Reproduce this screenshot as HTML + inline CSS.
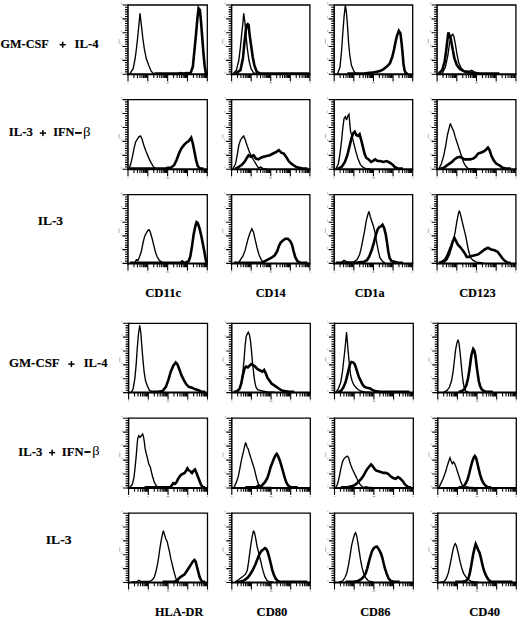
<!DOCTYPE html><html><head><meta charset="utf-8"><style>html,body{margin:0;padding:0;background:#fff;}svg{display:block;}</style></head><body>
<svg width="520" height="618" viewBox="0 0 520 618">
<rect width="520" height="618" fill="#fff"/>
<g font-family="Liberation Serif" font-weight="bold" font-size="12.7" fill="#000" stroke="#000" stroke-width="0.15">
<text transform="translate(0.49 48) scale(0.9653 1.0000)">GM-CSF</text>
<text transform="translate(74.52 48) scale(1.0014 1.0000)">IL-4</text>
<text transform="translate(8.82 136.2) scale(1.0068 1.0000)">IL-3</text>
<text transform="translate(53.13 136.2) scale(0.9702 1.0000)">IFN</text>
<text transform="translate(83.01 136.09) scale(1.1715 0.9778)" font-weight="normal" stroke="none">β</text>
<text transform="translate(37.7 224.8) scale(1.0585 1.0000)">IL-3</text>
<text transform="translate(8.96 366.8) scale(1.0144 1.0000)">GM-CSF</text>
<text transform="translate(83.72 366.9) scale(0.9885 1.0000)">IL-4</text>
<text transform="translate(18.32 455.5) scale(0.9982 1.0000)">IL-3</text>
<text transform="translate(61.82 455.5) scale(0.9936 1.0000)">IFN</text>
<text transform="translate(92.24 455.25) scale(1.1331 0.9172)" font-weight="normal" stroke="none">β</text>
<text transform="translate(45.79 543.8) scale(1.0757 1.0000)">IL-3</text>
<text transform="translate(145.16 297) scale(1.0014 1.0000)">CD11c</text>
<text transform="translate(255.68 297) scale(0.9694 1.0000)">CD14</text>
<text transform="translate(354.69 297) scale(0.9627 1.0000)">CD1a</text>
<text transform="translate(459.18 297) scale(0.9746 1.0000)">CD123</text>
<text transform="translate(154.96 615.7) scale(0.9637 1.0000)">HLA-DR</text>
<text transform="translate(256.57 615.9) scale(0.9943 1.0000)">CD80</text>
<text transform="translate(360.18 615.9) scale(0.9735 1.0000)">CD86</text>
<text transform="translate(469.17 615.9) scale(0.9943 1.0000)">CD40</text>
<rect x="59.6" y="43.95" width="6.2" height="1.5" stroke="none"/>
<rect x="61.95" y="41.7" width="1.5" height="6" stroke="none"/>
<rect x="39.8" y="132.35" width="6.2" height="1.5" stroke="none"/>
<rect x="42.15" y="130.1" width="1.5" height="6" stroke="none"/>
<rect x="68.3" y="363.35" width="6.2" height="1.5" stroke="none"/>
<rect x="70.65" y="361.1" width="1.5" height="6" stroke="none"/>
<rect x="49" y="451.85" width="6.2" height="1.5" stroke="none"/>
<rect x="51.35" y="449.6" width="1.5" height="6" stroke="none"/>
<rect x="75" y="132" width="6.8" height="1.8" stroke="none"/>
<rect x="84.4" y="451.1" width="6.2" height="1.8" stroke="none"/>
</g>
<path d="M128 5H207.3V74.2" fill="none" stroke="#000" stroke-width="1.3"/>
<path d="M128 4.4V75.2" fill="none" stroke="#000" stroke-width="1.5"/>
<path d="M127 74.2H207.9" fill="none" stroke="#000" stroke-width="2"/>
<path d="M122.5 5H128M125 7.31H128M125 9.61H128M125 11.92H128M125 14.23H128M125 16.53H128M122.5 18.84H128M125 21.15H128M125 23.45H128M125 25.76H128M125 28.07H128M125 30.37H128M122.5 32.68H128M125 34.99H128M125 37.29H128M125 39.6H128M125 41.91H128M125 44.21H128M122.5 46.52H128M125 48.83H128M125 51.13H128M125 53.44H128M125 55.75H128M125 58.05H128M122.5 60.36H128M125 62.67H128M125 64.97H128M125 67.28H128M125 69.59H128M125 71.89H128M122.5 74.2H128" stroke="#000" stroke-width="1.1"/>
<path d="M133.97 74.2V78M137.46 74.2V78M139.94 74.2V78M141.86 74.2V78M143.43 74.2V78M144.75 74.2V78M145.9 74.2V78M146.92 74.2V78M153.79 74.2V78M157.28 74.2V78M159.76 74.2V78M161.68 74.2V78M163.25 74.2V78M164.58 74.2V78M165.73 74.2V78M166.74 74.2V78M173.62 74.2V78M177.11 74.2V78M179.59 74.2V78M181.51 74.2V78M183.08 74.2V78M184.4 74.2V78M185.55 74.2V78M186.57 74.2V78M193.44 74.2V78M196.93 74.2V78M199.41 74.2V78M201.33 74.2V78M202.9 74.2V78M204.23 74.2V78M205.38 74.2V78M206.39 74.2V78" stroke="#000" stroke-width="1.05"/>
<path d="M128 74.2V81.2M147.82 74.2V81.2M167.65 74.2V81.2M187.48 74.2V81.2M207.3 74.2V81.2" stroke="#000" stroke-width="1.1"/>
<path d="M121.4 4.2v-1.6M121.4 18.04v-1.6M121.4 31.88v-1.6M121.4 45.72v-1.6M121.4 59.56v-1.6M121.4 73.4v-1.6M127.3 82.8h1.4M147.12 82.8h1.4M166.95 82.8h1.4M186.78 82.8h1.4M206.6 82.8h1.4M166.15 82.8h3M119.2 39.1v4.5" stroke="#aaa" stroke-width="0.9" fill="none"/>
<polyline points="129.9,73.7 133.17,68.67 135.13,58.6 136.44,48.53 137.75,36.78 138.89,25.04 140.04,13.29 141.35,25.04 142.65,36.78 144.29,48.53 146.25,58.6 148.7,65.31 151.15,71.18 153.61,73.7 178.94,73.7" fill="none" stroke="#000" stroke-width="1.35" stroke-linejoin="miter" stroke-miterlimit="3"/>
<polyline points="154.42,73.5 178.94,73.5 180.58,73.17 183.03,73.5 187.12,73.17 190.38,73.5 192.84,66.81 194.47,50.08 196.11,33.34 197.41,18.29 198.56,8.25 199.87,9.92 201.01,21.63 202.32,38.36 203.46,53.42 204.77,66.81 205.91,73.5 206.73,73.5" fill="none" stroke="#000" stroke-width="2.6" stroke-linejoin="miter" stroke-miterlimit="3"/>
<path d="M231.6 5H309.9V74.2" fill="none" stroke="#000" stroke-width="1.3"/>
<path d="M231.6 4.4V75.2" fill="none" stroke="#000" stroke-width="1.5"/>
<path d="M230.6 74.2H310.5" fill="none" stroke="#000" stroke-width="2"/>
<path d="M226.1 5H231.6M228.6 7.31H231.6M228.6 9.61H231.6M228.6 11.92H231.6M228.6 14.23H231.6M228.6 16.53H231.6M226.1 18.84H231.6M228.6 21.15H231.6M228.6 23.45H231.6M228.6 25.76H231.6M228.6 28.07H231.6M228.6 30.37H231.6M226.1 32.68H231.6M228.6 34.99H231.6M228.6 37.29H231.6M228.6 39.6H231.6M228.6 41.91H231.6M228.6 44.21H231.6M226.1 46.52H231.6M228.6 48.83H231.6M228.6 51.13H231.6M228.6 53.44H231.6M228.6 55.75H231.6M228.6 58.05H231.6M226.1 60.36H231.6M228.6 62.67H231.6M228.6 64.97H231.6M228.6 67.28H231.6M228.6 69.59H231.6M228.6 71.89H231.6M226.1 74.2H231.6" stroke="#000" stroke-width="1.1"/>
<path d="M237.49 74.2V78M240.94 74.2V78M243.39 74.2V78M245.28 74.2V78M246.83 74.2V78M248.14 74.2V78M249.28 74.2V78M250.28 74.2V78M257.07 74.2V78M260.51 74.2V78M262.96 74.2V78M264.86 74.2V78M266.41 74.2V78M267.72 74.2V78M268.85 74.2V78M269.85 74.2V78M276.64 74.2V78M280.09 74.2V78M282.54 74.2V78M284.43 74.2V78M285.98 74.2V78M287.29 74.2V78M288.43 74.2V78M289.43 74.2V78M296.22 74.2V78M299.66 74.2V78M302.11 74.2V78M304.01 74.2V78M305.56 74.2V78M306.87 74.2V78M308 74.2V78M309 74.2V78" stroke="#000" stroke-width="1.05"/>
<path d="M231.6 74.2V81.2M251.17 74.2V81.2M270.75 74.2V81.2M290.32 74.2V81.2M309.9 74.2V81.2" stroke="#000" stroke-width="1.1"/>
<path d="M225 4.2v-1.6M225 18.04v-1.6M225 31.88v-1.6M225 45.72v-1.6M225 59.56v-1.6M225 73.4v-1.6M230.9 82.8h1.4M250.47 82.8h1.4M270.05 82.8h1.4M289.62 82.8h1.4M309.2 82.8h1.4M269.25 82.8h3M222.8 39.1v4.5" stroke="#aaa" stroke-width="0.9" fill="none"/>
<polyline points="233.09,73.7 236.36,70.34 238.81,60.28 240.44,46.85 241.75,33.43 242.89,23.36 243.71,13.29 245.02,23.36 246.16,36.78 247.31,48.53 248.94,60.28 251.07,68.67 253.52,72.86 256.79,73.7" fill="none" stroke="#000" stroke-width="1.35" stroke-linejoin="miter" stroke-miterlimit="3"/>
<polyline points="235.54,73.5 240.44,70.15 242.89,58.44 244.53,41.71 245.84,30 246.98,24.98 247.8,24.14 248.62,24.98 249.43,33.34 251.07,45.06 252.7,56.77 254.34,65.13 256.79,71.83 260.06,73.5 269.87,73.5 278.04,73.5 294.38,73.5 309.1,73.5" fill="none" stroke="#000" stroke-width="2.6" stroke-linejoin="miter" stroke-miterlimit="3"/>
<path d="M334.2 5H412.7V74.2" fill="none" stroke="#000" stroke-width="1.3"/>
<path d="M334.2 4.4V75.2" fill="none" stroke="#000" stroke-width="1.5"/>
<path d="M333.2 74.2H413.3" fill="none" stroke="#000" stroke-width="2"/>
<path d="M328.7 5H334.2M331.2 7.31H334.2M331.2 9.61H334.2M331.2 11.92H334.2M331.2 14.23H334.2M331.2 16.53H334.2M328.7 18.84H334.2M331.2 21.15H334.2M331.2 23.45H334.2M331.2 25.76H334.2M331.2 28.07H334.2M331.2 30.37H334.2M328.7 32.68H334.2M331.2 34.99H334.2M331.2 37.29H334.2M331.2 39.6H334.2M331.2 41.91H334.2M331.2 44.21H334.2M328.7 46.52H334.2M331.2 48.83H334.2M331.2 51.13H334.2M331.2 53.44H334.2M331.2 55.75H334.2M331.2 58.05H334.2M328.7 60.36H334.2M331.2 62.67H334.2M331.2 64.97H334.2M331.2 67.28H334.2M331.2 69.59H334.2M331.2 71.89H334.2M328.7 74.2H334.2" stroke="#000" stroke-width="1.1"/>
<path d="M340.11 74.2V78M343.56 74.2V78M346.02 74.2V78M347.92 74.2V78M349.47 74.2V78M350.79 74.2V78M351.92 74.2V78M352.93 74.2V78M359.73 74.2V78M363.19 74.2V78M365.64 74.2V78M367.54 74.2V78M369.1 74.2V78M370.41 74.2V78M371.55 74.2V78M372.55 74.2V78M379.36 74.2V78M382.81 74.2V78M385.27 74.2V78M387.17 74.2V78M388.72 74.2V78M390.04 74.2V78M391.17 74.2V78M392.18 74.2V78M398.98 74.2V78M402.44 74.2V78M404.89 74.2V78M406.79 74.2V78M408.35 74.2V78M409.66 74.2V78M410.8 74.2V78M411.8 74.2V78" stroke="#000" stroke-width="1.05"/>
<path d="M334.2 74.2V81.2M353.82 74.2V81.2M373.45 74.2V81.2M393.07 74.2V81.2M412.7 74.2V81.2" stroke="#000" stroke-width="1.1"/>
<path d="M327.6 4.2v-1.6M327.6 18.04v-1.6M327.6 31.88v-1.6M327.6 45.72v-1.6M327.6 59.56v-1.6M327.6 73.4v-1.6M333.5 82.8h1.4M353.12 82.8h1.4M372.75 82.8h1.4M392.38 82.8h1.4M412 82.8h1.4M371.95 82.8h3M325.4 39.1v4.5" stroke="#aaa" stroke-width="0.9" fill="none"/>
<polyline points="337.54,73.7 339.99,66.99 341.62,50.21 342.77,33.43 344.08,16.65 345.38,5 346.53,13.29 347.67,28.39 348.65,43.5 349.8,55.24 351.43,65.31 353.88,71.18 356.34,73.7" fill="none" stroke="#000" stroke-width="1.35" stroke-linejoin="miter" stroke-miterlimit="3"/>
<polyline points="347.35,73.5 363.69,73.5 371.87,72.66 380.04,70.99 383.31,69.32 386.58,66.81 389.85,63.46 392.3,56.77 393.93,50.08 395.57,41.71 397.2,35.02 398.84,30.84 400.47,33.34 401.62,43.38 402.6,53.42 403.41,63.46 404.56,70.15 405.87,73.5 407.83,73.5" fill="none" stroke="#000" stroke-width="2.6" stroke-linejoin="miter" stroke-miterlimit="3"/>
<path d="M437.1 5H515.9V74.2" fill="none" stroke="#000" stroke-width="1.3"/>
<path d="M437.1 4.4V75.2" fill="none" stroke="#000" stroke-width="1.5"/>
<path d="M436.1 74.2H516.5" fill="none" stroke="#000" stroke-width="2"/>
<path d="M431.6 5H437.1M434.1 7.31H437.1M434.1 9.61H437.1M434.1 11.92H437.1M434.1 14.23H437.1M434.1 16.53H437.1M431.6 18.84H437.1M434.1 21.15H437.1M434.1 23.45H437.1M434.1 25.76H437.1M434.1 28.07H437.1M434.1 30.37H437.1M431.6 32.68H437.1M434.1 34.99H437.1M434.1 37.29H437.1M434.1 39.6H437.1M434.1 41.91H437.1M434.1 44.21H437.1M431.6 46.52H437.1M434.1 48.83H437.1M434.1 51.13H437.1M434.1 53.44H437.1M434.1 55.75H437.1M434.1 58.05H437.1M431.6 60.36H437.1M434.1 62.67H437.1M434.1 64.97H437.1M434.1 67.28H437.1M434.1 69.59H437.1M434.1 71.89H437.1M431.6 74.2H437.1" stroke="#000" stroke-width="1.1"/>
<path d="M443.03 74.2V78M446.5 74.2V78M448.96 74.2V78M450.87 74.2V78M452.43 74.2V78M453.75 74.2V78M454.89 74.2V78M455.9 74.2V78M462.73 74.2V78M466.2 74.2V78M468.66 74.2V78M470.57 74.2V78M472.13 74.2V78M473.45 74.2V78M474.59 74.2V78M475.6 74.2V78M482.43 74.2V78M485.9 74.2V78M488.36 74.2V78M490.27 74.2V78M491.83 74.2V78M493.15 74.2V78M494.29 74.2V78M495.3 74.2V78M502.13 74.2V78M505.6 74.2V78M508.06 74.2V78M509.97 74.2V78M511.53 74.2V78M512.85 74.2V78M513.99 74.2V78M515 74.2V78" stroke="#000" stroke-width="1.05"/>
<path d="M437.1 74.2V81.2M456.8 74.2V81.2M476.5 74.2V81.2M496.2 74.2V81.2M515.9 74.2V81.2" stroke="#000" stroke-width="1.1"/>
<path d="M430.5 4.2v-1.6M430.5 18.04v-1.6M430.5 31.88v-1.6M430.5 45.72v-1.6M430.5 59.56v-1.6M430.5 73.4v-1.6M436.4 82.8h1.4M456.1 82.8h1.4M475.8 82.8h1.4M495.5 82.8h1.4M515.2 82.8h1.4M475 82.8h3M428.3 39.1v4.5" stroke="#aaa" stroke-width="0.9" fill="none"/>
<polyline points="442.17,73.7 445.44,66.99 447.89,55.24 449.53,43.5 451.16,35.94 452.8,34.27 453.94,36.78 455.25,43.5 456.88,53.56 458.52,61.95 460.97,67.83 464.24,71.18 469.96,71.18 471.6,70.34 476.5,73.36 483.04,73.7" fill="none" stroke="#000" stroke-width="1.35" stroke-linejoin="miter" stroke-miterlimit="3"/>
<polyline points="438.9,73.5 442.17,70.15 444.62,61.79 446.26,50.08 447.4,40.04 448.38,32.51 449.53,35.85 450.67,38.36 451.65,43.38 452.8,50.08 454.43,58.44 456.88,65.13 460.15,69.32 465.06,71.83 471.6,72.66 479.77,73.5 491.21,73.5 499.38,73.5" fill="none" stroke="#000" stroke-width="2.6" stroke-linejoin="miter" stroke-miterlimit="3"/>
<path d="M128 99.6H207.3V169.3" fill="none" stroke="#000" stroke-width="1.3"/>
<path d="M128 99V170.3" fill="none" stroke="#000" stroke-width="1.5"/>
<path d="M127 169.3H207.9" fill="none" stroke="#000" stroke-width="2"/>
<path d="M122.5 99.6H128M125 101.92H128M125 104.25H128M125 106.57H128M125 108.89H128M125 111.22H128M122.5 113.54H128M125 115.86H128M125 118.19H128M125 120.51H128M125 122.83H128M125 125.16H128M122.5 127.48H128M125 129.8H128M125 132.13H128M125 134.45H128M125 136.77H128M125 139.1H128M122.5 141.42H128M125 143.74H128M125 146.07H128M125 148.39H128M125 150.71H128M125 153.04H128M122.5 155.36H128M125 157.68H128M125 160.01H128M125 162.33H128M125 164.65H128M125 166.98H128M122.5 169.3H128" stroke="#000" stroke-width="1.1"/>
<path d="M133.97 169.3V173.1M137.46 169.3V173.1M139.94 169.3V173.1M141.86 169.3V173.1M143.43 169.3V173.1M144.75 169.3V173.1M145.9 169.3V173.1M146.92 169.3V173.1M153.79 169.3V173.1M157.28 169.3V173.1M159.76 169.3V173.1M161.68 169.3V173.1M163.25 169.3V173.1M164.58 169.3V173.1M165.73 169.3V173.1M166.74 169.3V173.1M173.62 169.3V173.1M177.11 169.3V173.1M179.59 169.3V173.1M181.51 169.3V173.1M183.08 169.3V173.1M184.4 169.3V173.1M185.55 169.3V173.1M186.57 169.3V173.1M193.44 169.3V173.1M196.93 169.3V173.1M199.41 169.3V173.1M201.33 169.3V173.1M202.9 169.3V173.1M204.23 169.3V173.1M205.38 169.3V173.1M206.39 169.3V173.1" stroke="#000" stroke-width="1.05"/>
<path d="M128 169.3V176.3M147.82 169.3V176.3M167.65 169.3V176.3M187.48 169.3V176.3M207.3 169.3V176.3" stroke="#000" stroke-width="1.1"/>
<path d="M121.4 98.8v-1.6M121.4 112.74v-1.6M121.4 126.68v-1.6M121.4 140.62v-1.6M121.4 154.56v-1.6M121.4 168.5v-1.6M127.3 177.9h1.4M147.12 177.9h1.4M166.95 177.9h1.4M186.78 177.9h1.4M206.6 177.9h1.4M166.15 177.9h3M119.2 133.95v4.5" stroke="#aaa" stroke-width="0.9" fill="none"/>
<polyline points="129.09,168.8 130.72,163.76 132.36,157.04 133.99,148.64 135.62,141.92 137.26,139.4 138.89,136.88 140.53,136.04 142.16,139.4 143.8,145.28 146.25,152 148.7,157.88 151.15,162.92 153.61,167.12 156.06,168.8 165.87,168.8" fill="none" stroke="#000" stroke-width="1.35" stroke-linejoin="miter" stroke-miterlimit="3"/>
<polyline points="129.9,168.6 165.87,168.6 167.5,167.76 170.77,167.76 174.04,165.25 176.49,160.22 178.94,153.52 181.39,148.5 183.85,145.15 186.3,142.63 188.75,140.96 191.2,137.61 192.84,143.47 194.47,151.85 196.11,160.22 197.74,166.09 200.19,168.6 203.46,168.6" fill="none" stroke="#000" stroke-width="2.6" stroke-linejoin="miter" stroke-miterlimit="3"/>
<path d="M231.6 99.6H309.9V169.3" fill="none" stroke="#000" stroke-width="1.3"/>
<path d="M231.6 99V170.3" fill="none" stroke="#000" stroke-width="1.5"/>
<path d="M230.6 169.3H310.5" fill="none" stroke="#000" stroke-width="2"/>
<path d="M226.1 99.6H231.6M228.6 101.92H231.6M228.6 104.25H231.6M228.6 106.57H231.6M228.6 108.89H231.6M228.6 111.22H231.6M226.1 113.54H231.6M228.6 115.86H231.6M228.6 118.19H231.6M228.6 120.51H231.6M228.6 122.83H231.6M228.6 125.16H231.6M226.1 127.48H231.6M228.6 129.8H231.6M228.6 132.13H231.6M228.6 134.45H231.6M228.6 136.77H231.6M228.6 139.1H231.6M226.1 141.42H231.6M228.6 143.74H231.6M228.6 146.07H231.6M228.6 148.39H231.6M228.6 150.71H231.6M228.6 153.04H231.6M226.1 155.36H231.6M228.6 157.68H231.6M228.6 160.01H231.6M228.6 162.33H231.6M228.6 164.65H231.6M228.6 166.98H231.6M226.1 169.3H231.6" stroke="#000" stroke-width="1.1"/>
<path d="M237.49 169.3V173.1M240.94 169.3V173.1M243.39 169.3V173.1M245.28 169.3V173.1M246.83 169.3V173.1M248.14 169.3V173.1M249.28 169.3V173.1M250.28 169.3V173.1M257.07 169.3V173.1M260.51 169.3V173.1M262.96 169.3V173.1M264.86 169.3V173.1M266.41 169.3V173.1M267.72 169.3V173.1M268.85 169.3V173.1M269.85 169.3V173.1M276.64 169.3V173.1M280.09 169.3V173.1M282.54 169.3V173.1M284.43 169.3V173.1M285.98 169.3V173.1M287.29 169.3V173.1M288.43 169.3V173.1M289.43 169.3V173.1M296.22 169.3V173.1M299.66 169.3V173.1M302.11 169.3V173.1M304.01 169.3V173.1M305.56 169.3V173.1M306.87 169.3V173.1M308 169.3V173.1M309 169.3V173.1" stroke="#000" stroke-width="1.05"/>
<path d="M231.6 169.3V176.3M251.17 169.3V176.3M270.75 169.3V176.3M290.32 169.3V176.3M309.9 169.3V176.3" stroke="#000" stroke-width="1.1"/>
<path d="M225 98.8v-1.6M225 112.74v-1.6M225 126.68v-1.6M225 140.62v-1.6M225 154.56v-1.6M225 168.5v-1.6M230.9 177.9h1.4M250.47 177.9h1.4M270.05 177.9h1.4M289.62 177.9h1.4M309.2 177.9h1.4M269.25 177.9h3M222.8 133.95v4.5" stroke="#aaa" stroke-width="0.9" fill="none"/>
<polyline points="233.09,168.8 235.54,163.76 237.17,155.36 238.81,145.28 240.44,140.24 242.08,137.72 243.71,136.04 245.35,140.24 246.98,145.28 249.43,152 251.88,157.04 254.34,161.24 256.79,165.44 258.42,167.96 260.88,167.12 263.33,168.8 266.6,168.8" fill="none" stroke="#000" stroke-width="1.35" stroke-linejoin="miter" stroke-miterlimit="3"/>
<polyline points="235.54,168.6 238.81,166.92 242.08,164.41 244.53,161.9 246.98,157.71 248.62,155.2 251.07,156.87 253.52,155.2 255.97,158.55 258.42,159.39 260.88,157.71 263.33,156.87 266.6,156.04 269.87,155.2 273.13,153.52 276.4,151.85 278.86,150.17 281.31,152.68 283.76,153.52 286.21,156.87 288.66,161.06 291.12,163.57 293.57,165.25 296.02,166.92 299.29,167.76 302.56,168.6 307.46,168.6" fill="none" stroke="#000" stroke-width="2.6" stroke-linejoin="miter" stroke-miterlimit="3"/>
<path d="M334.2 99.6H412.7V169.3" fill="none" stroke="#000" stroke-width="1.3"/>
<path d="M334.2 99V170.3" fill="none" stroke="#000" stroke-width="1.5"/>
<path d="M333.2 169.3H413.3" fill="none" stroke="#000" stroke-width="2"/>
<path d="M328.7 99.6H334.2M331.2 101.92H334.2M331.2 104.25H334.2M331.2 106.57H334.2M331.2 108.89H334.2M331.2 111.22H334.2M328.7 113.54H334.2M331.2 115.86H334.2M331.2 118.19H334.2M331.2 120.51H334.2M331.2 122.83H334.2M331.2 125.16H334.2M328.7 127.48H334.2M331.2 129.8H334.2M331.2 132.13H334.2M331.2 134.45H334.2M331.2 136.77H334.2M331.2 139.1H334.2M328.7 141.42H334.2M331.2 143.74H334.2M331.2 146.07H334.2M331.2 148.39H334.2M331.2 150.71H334.2M331.2 153.04H334.2M328.7 155.36H334.2M331.2 157.68H334.2M331.2 160.01H334.2M331.2 162.33H334.2M331.2 164.65H334.2M331.2 166.98H334.2M328.7 169.3H334.2" stroke="#000" stroke-width="1.1"/>
<path d="M340.11 169.3V173.1M343.56 169.3V173.1M346.02 169.3V173.1M347.92 169.3V173.1M349.47 169.3V173.1M350.79 169.3V173.1M351.92 169.3V173.1M352.93 169.3V173.1M359.73 169.3V173.1M363.19 169.3V173.1M365.64 169.3V173.1M367.54 169.3V173.1M369.1 169.3V173.1M370.41 169.3V173.1M371.55 169.3V173.1M372.55 169.3V173.1M379.36 169.3V173.1M382.81 169.3V173.1M385.27 169.3V173.1M387.17 169.3V173.1M388.72 169.3V173.1M390.04 169.3V173.1M391.17 169.3V173.1M392.18 169.3V173.1M398.98 169.3V173.1M402.44 169.3V173.1M404.89 169.3V173.1M406.79 169.3V173.1M408.35 169.3V173.1M409.66 169.3V173.1M410.8 169.3V173.1M411.8 169.3V173.1" stroke="#000" stroke-width="1.05"/>
<path d="M334.2 169.3V176.3M353.82 169.3V176.3M373.45 169.3V176.3M393.07 169.3V176.3M412.7 169.3V176.3" stroke="#000" stroke-width="1.1"/>
<path d="M327.6 98.8v-1.6M327.6 112.74v-1.6M327.6 126.68v-1.6M327.6 140.62v-1.6M327.6 154.56v-1.6M327.6 168.5v-1.6M333.5 177.9h1.4M353.12 177.9h1.4M372.75 177.9h1.4M392.38 177.9h1.4M412 177.9h1.4M371.95 177.9h3M325.4 133.95v4.5" stroke="#aaa" stroke-width="0.9" fill="none"/>
<polyline points="335.9,168.8 338.36,163.76 339.99,153.68 341.62,140.24 342.77,128.48 344.08,118.39 345.38,116.71 346.53,120.07 347.84,115.87 348.98,114.19 349.8,123.43 350.62,131.84 352.25,136.88 353.88,143.6 355.52,150.32 357.97,158.72 360.42,164.6 362.88,167.12 366.14,168.8 370.23,168.8" fill="none" stroke="#000" stroke-width="1.35" stroke-linejoin="miter" stroke-miterlimit="3"/>
<polyline points="337.54,168.6 341.62,166.92 344.89,161.9 347.35,155.2 349.8,145.15 351.43,138.44 353.07,133.42 354.7,131.74 356.34,135.09 357.97,135.93 359.61,134.26 361.24,140.12 362.88,146.82 364.51,153.52 366.14,157.71 368.6,159.39 371.05,161.9 372.68,161.06 375.13,159.39 377.59,161.06 380.04,161.06 383.31,161.9 386.58,161.06 389.85,162.74 392.3,164.41 394.75,166.92 398.02,168.6 402.92,168.6" fill="none" stroke="#000" stroke-width="2.6" stroke-linejoin="miter" stroke-miterlimit="3"/>
<path d="M437.1 99.6H515.9V169.3" fill="none" stroke="#000" stroke-width="1.3"/>
<path d="M437.1 99V170.3" fill="none" stroke="#000" stroke-width="1.5"/>
<path d="M436.1 169.3H516.5" fill="none" stroke="#000" stroke-width="2"/>
<path d="M431.6 99.6H437.1M434.1 101.92H437.1M434.1 104.25H437.1M434.1 106.57H437.1M434.1 108.89H437.1M434.1 111.22H437.1M431.6 113.54H437.1M434.1 115.86H437.1M434.1 118.19H437.1M434.1 120.51H437.1M434.1 122.83H437.1M434.1 125.16H437.1M431.6 127.48H437.1M434.1 129.8H437.1M434.1 132.13H437.1M434.1 134.45H437.1M434.1 136.77H437.1M434.1 139.1H437.1M431.6 141.42H437.1M434.1 143.74H437.1M434.1 146.07H437.1M434.1 148.39H437.1M434.1 150.71H437.1M434.1 153.04H437.1M431.6 155.36H437.1M434.1 157.68H437.1M434.1 160.01H437.1M434.1 162.33H437.1M434.1 164.65H437.1M434.1 166.98H437.1M431.6 169.3H437.1" stroke="#000" stroke-width="1.1"/>
<path d="M443.03 169.3V173.1M446.5 169.3V173.1M448.96 169.3V173.1M450.87 169.3V173.1M452.43 169.3V173.1M453.75 169.3V173.1M454.89 169.3V173.1M455.9 169.3V173.1M462.73 169.3V173.1M466.2 169.3V173.1M468.66 169.3V173.1M470.57 169.3V173.1M472.13 169.3V173.1M473.45 169.3V173.1M474.59 169.3V173.1M475.6 169.3V173.1M482.43 169.3V173.1M485.9 169.3V173.1M488.36 169.3V173.1M490.27 169.3V173.1M491.83 169.3V173.1M493.15 169.3V173.1M494.29 169.3V173.1M495.3 169.3V173.1M502.13 169.3V173.1M505.6 169.3V173.1M508.06 169.3V173.1M509.97 169.3V173.1M511.53 169.3V173.1M512.85 169.3V173.1M513.99 169.3V173.1M515 169.3V173.1" stroke="#000" stroke-width="1.05"/>
<path d="M437.1 169.3V176.3M456.8 169.3V176.3M476.5 169.3V176.3M496.2 169.3V176.3M515.9 169.3V176.3" stroke="#000" stroke-width="1.1"/>
<path d="M430.5 98.8v-1.6M430.5 112.74v-1.6M430.5 126.68v-1.6M430.5 140.62v-1.6M430.5 154.56v-1.6M430.5 168.5v-1.6M436.4 177.9h1.4M456.1 177.9h1.4M475.8 177.9h1.4M495.5 177.9h1.4M515.2 177.9h1.4M475 177.9h3M428.3 133.95v4.5" stroke="#aaa" stroke-width="0.9" fill="none"/>
<polyline points="438.9,168.8 441.36,163.76 443.81,155.36 445.77,145.28 447.4,135.2 449.04,128.48 450.35,123.43 451.98,127.64 453.62,131 455.25,136.88 456.88,141.92 458.52,146.96 460.15,152 461.79,157.04 463.42,162.08 465.88,166.28 468.33,168.8 476.5,168.8" fill="none" stroke="#000" stroke-width="1.35" stroke-linejoin="miter" stroke-miterlimit="3"/>
<polyline points="440.54,168.6 443.81,167.76 447.08,165.25 449.53,163.57 451.98,161.9 454.43,159.39 456.88,157.71 459.34,156.87 461.79,157.71 464.24,159.39 466.69,159.39 469.96,159.39 473.23,158.55 475.68,156.87 478.13,153.52 480.59,152.68 483.04,151.85 485.49,150.17 487.94,147.66 489.58,150.17 491.21,155.2 493.66,160.22 496.12,163.57 499.38,165.25 502.65,167.76 505.92,168.6 510.83,168.6" fill="none" stroke="#000" stroke-width="2.6" stroke-linejoin="miter" stroke-miterlimit="3"/>
<path d="M128 194.7H207.3V263.4" fill="none" stroke="#000" stroke-width="1.3"/>
<path d="M128 194.1V264.4" fill="none" stroke="#000" stroke-width="1.5"/>
<path d="M127 263.4H207.9" fill="none" stroke="#000" stroke-width="2"/>
<path d="M122.5 194.7H128M125 196.99H128M125 199.28H128M125 201.57H128M125 203.86H128M125 206.15H128M122.5 208.44H128M125 210.73H128M125 213.02H128M125 215.31H128M125 217.6H128M125 219.89H128M122.5 222.18H128M125 224.47H128M125 226.76H128M125 229.05H128M125 231.34H128M125 233.63H128M122.5 235.92H128M125 238.21H128M125 240.5H128M125 242.79H128M125 245.08H128M125 247.37H128M122.5 249.66H128M125 251.95H128M125 254.24H128M125 256.53H128M125 258.82H128M125 261.11H128M122.5 263.4H128" stroke="#000" stroke-width="1.1"/>
<path d="M133.97 263.4V267.2M137.46 263.4V267.2M139.94 263.4V267.2M141.86 263.4V267.2M143.43 263.4V267.2M144.75 263.4V267.2M145.9 263.4V267.2M146.92 263.4V267.2M153.79 263.4V267.2M157.28 263.4V267.2M159.76 263.4V267.2M161.68 263.4V267.2M163.25 263.4V267.2M164.58 263.4V267.2M165.73 263.4V267.2M166.74 263.4V267.2M173.62 263.4V267.2M177.11 263.4V267.2M179.59 263.4V267.2M181.51 263.4V267.2M183.08 263.4V267.2M184.4 263.4V267.2M185.55 263.4V267.2M186.57 263.4V267.2M193.44 263.4V267.2M196.93 263.4V267.2M199.41 263.4V267.2M201.33 263.4V267.2M202.9 263.4V267.2M204.23 263.4V267.2M205.38 263.4V267.2M206.39 263.4V267.2" stroke="#000" stroke-width="1.05"/>
<path d="M128 263.4V270.4M147.82 263.4V270.4M167.65 263.4V270.4M187.48 263.4V270.4M207.3 263.4V270.4" stroke="#000" stroke-width="1.1"/>
<path d="M121.4 193.9v-1.6M121.4 207.64v-1.6M121.4 221.38v-1.6M121.4 235.12v-1.6M121.4 248.86v-1.6M121.4 262.6v-1.6M127.3 272h1.4M147.12 272h1.4M166.95 272h1.4M186.78 272h1.4M206.6 272h1.4M166.15 272h3M119.2 228.55v4.5" stroke="#aaa" stroke-width="0.9" fill="none"/>
<polyline points="134.81,262.9 136.44,259.58 138.08,260.41 139.71,256.27 141.35,251.29 142.98,243 144.62,236.37 146.25,233.05 147.88,230.56 149.19,229.73 150.34,232.22 151.97,238.02 153.61,244.66 155.24,251.29 156.88,256.27 159.33,260.41 161.78,262.07 164.23,262.9" fill="none" stroke="#000" stroke-width="1.35" stroke-linejoin="miter" stroke-miterlimit="3"/>
<polyline points="129.9,262.7 180.58,262.7 182.21,261.38 183.85,262.7 185.48,262.7 188.75,261.05 190.38,256.09 192.02,246.16 193.65,234.59 195.29,226.32 196.6,222.19 197.74,223.02 199.38,227.98 201.01,234.59 202.64,242.86 204.28,251.13 205.42,257.74 206.4,262.7" fill="none" stroke="#000" stroke-width="2.6" stroke-linejoin="miter" stroke-miterlimit="3"/>
<path d="M231.6 194.7H309.9V263.4" fill="none" stroke="#000" stroke-width="1.3"/>
<path d="M231.6 194.1V264.4" fill="none" stroke="#000" stroke-width="1.5"/>
<path d="M230.6 263.4H310.5" fill="none" stroke="#000" stroke-width="2"/>
<path d="M226.1 194.7H231.6M228.6 196.99H231.6M228.6 199.28H231.6M228.6 201.57H231.6M228.6 203.86H231.6M228.6 206.15H231.6M226.1 208.44H231.6M228.6 210.73H231.6M228.6 213.02H231.6M228.6 215.31H231.6M228.6 217.6H231.6M228.6 219.89H231.6M226.1 222.18H231.6M228.6 224.47H231.6M228.6 226.76H231.6M228.6 229.05H231.6M228.6 231.34H231.6M228.6 233.63H231.6M226.1 235.92H231.6M228.6 238.21H231.6M228.6 240.5H231.6M228.6 242.79H231.6M228.6 245.08H231.6M228.6 247.37H231.6M226.1 249.66H231.6M228.6 251.95H231.6M228.6 254.24H231.6M228.6 256.53H231.6M228.6 258.82H231.6M228.6 261.11H231.6M226.1 263.4H231.6" stroke="#000" stroke-width="1.1"/>
<path d="M237.49 263.4V267.2M240.94 263.4V267.2M243.39 263.4V267.2M245.28 263.4V267.2M246.83 263.4V267.2M248.14 263.4V267.2M249.28 263.4V267.2M250.28 263.4V267.2M257.07 263.4V267.2M260.51 263.4V267.2M262.96 263.4V267.2M264.86 263.4V267.2M266.41 263.4V267.2M267.72 263.4V267.2M268.85 263.4V267.2M269.85 263.4V267.2M276.64 263.4V267.2M280.09 263.4V267.2M282.54 263.4V267.2M284.43 263.4V267.2M285.98 263.4V267.2M287.29 263.4V267.2M288.43 263.4V267.2M289.43 263.4V267.2M296.22 263.4V267.2M299.66 263.4V267.2M302.11 263.4V267.2M304.01 263.4V267.2M305.56 263.4V267.2M306.87 263.4V267.2M308 263.4V267.2M309 263.4V267.2" stroke="#000" stroke-width="1.05"/>
<path d="M231.6 263.4V270.4M251.17 263.4V270.4M270.75 263.4V270.4M290.32 263.4V270.4M309.9 263.4V270.4" stroke="#000" stroke-width="1.1"/>
<path d="M225 193.9v-1.6M225 207.64v-1.6M225 221.38v-1.6M225 235.12v-1.6M225 248.86v-1.6M225 262.6v-1.6M230.9 272h1.4M250.47 272h1.4M270.05 272h1.4M289.62 272h1.4M309.2 272h1.4M269.25 272h3M222.8 228.55v4.5" stroke="#aaa" stroke-width="0.9" fill="none"/>
<polyline points="238.81,262.9 240.44,259.58 242.89,256.27 245.35,249.63 247.8,239.68 249.92,233.05 251.88,228.9 253.52,232.22 255.15,239.68 257.12,247.97 259.24,255.44 261.69,260.41 264.14,262.9" fill="none" stroke="#000" stroke-width="1.35" stroke-linejoin="miter" stroke-miterlimit="3"/>
<polyline points="233.9,262.7 261.69,262.7 264.96,261.05 268.23,259.39 271.5,257.74 274.77,255.26 277.22,251.13 278.86,246.16 280.49,242.86 282.94,240.38 285.39,238.72 287.85,238.72 290.3,241.2 291.93,244.51 293.57,251.13 295.2,256.91 297.33,261.05 300.11,262.7 307.46,262.7" fill="none" stroke="#000" stroke-width="2.6" stroke-linejoin="miter" stroke-miterlimit="3"/>
<path d="M334.2 194.7H412.7V263.4" fill="none" stroke="#000" stroke-width="1.3"/>
<path d="M334.2 194.1V264.4" fill="none" stroke="#000" stroke-width="1.5"/>
<path d="M333.2 263.4H413.3" fill="none" stroke="#000" stroke-width="2"/>
<path d="M328.7 194.7H334.2M331.2 196.99H334.2M331.2 199.28H334.2M331.2 201.57H334.2M331.2 203.86H334.2M331.2 206.15H334.2M328.7 208.44H334.2M331.2 210.73H334.2M331.2 213.02H334.2M331.2 215.31H334.2M331.2 217.6H334.2M331.2 219.89H334.2M328.7 222.18H334.2M331.2 224.47H334.2M331.2 226.76H334.2M331.2 229.05H334.2M331.2 231.34H334.2M331.2 233.63H334.2M328.7 235.92H334.2M331.2 238.21H334.2M331.2 240.5H334.2M331.2 242.79H334.2M331.2 245.08H334.2M331.2 247.37H334.2M328.7 249.66H334.2M331.2 251.95H334.2M331.2 254.24H334.2M331.2 256.53H334.2M331.2 258.82H334.2M331.2 261.11H334.2M328.7 263.4H334.2" stroke="#000" stroke-width="1.1"/>
<path d="M340.11 263.4V267.2M343.56 263.4V267.2M346.02 263.4V267.2M347.92 263.4V267.2M349.47 263.4V267.2M350.79 263.4V267.2M351.92 263.4V267.2M352.93 263.4V267.2M359.73 263.4V267.2M363.19 263.4V267.2M365.64 263.4V267.2M367.54 263.4V267.2M369.1 263.4V267.2M370.41 263.4V267.2M371.55 263.4V267.2M372.55 263.4V267.2M379.36 263.4V267.2M382.81 263.4V267.2M385.27 263.4V267.2M387.17 263.4V267.2M388.72 263.4V267.2M390.04 263.4V267.2M391.17 263.4V267.2M392.18 263.4V267.2M398.98 263.4V267.2M402.44 263.4V267.2M404.89 263.4V267.2M406.79 263.4V267.2M408.35 263.4V267.2M409.66 263.4V267.2M410.8 263.4V267.2M411.8 263.4V267.2" stroke="#000" stroke-width="1.05"/>
<path d="M334.2 263.4V270.4M353.82 263.4V270.4M373.45 263.4V270.4M393.07 263.4V270.4M412.7 263.4V270.4" stroke="#000" stroke-width="1.1"/>
<path d="M327.6 193.9v-1.6M327.6 207.64v-1.6M327.6 221.38v-1.6M327.6 235.12v-1.6M327.6 248.86v-1.6M327.6 262.6v-1.6M333.5 272h1.4M353.12 272h1.4M372.75 272h1.4M392.38 272h1.4M412 272h1.4M371.95 272h3M325.4 228.55v4.5" stroke="#aaa" stroke-width="0.9" fill="none"/>
<polyline points="340.81,262.9 344.08,260.41 347.35,262.07 353.88,262.07 357.15,259.58 359.61,254.61 361.24,247.97 362.88,239.68 364.51,231.39 366.14,221.44 367.78,214.81 368.92,211.49 370.23,216.47 371.87,221.44 373.5,226.42 375.13,233.05 376.77,243 378.4,251.29 380.04,257.92 382.49,261.24 384.94,262.9" fill="none" stroke="#000" stroke-width="1.35" stroke-linejoin="miter" stroke-miterlimit="3"/>
<polyline points="335.9,262.7 355.52,262.7 363.69,261.87 366.96,260.22 369.41,256.09 371.87,249.47 373.83,242.86 375.95,234.59 377.59,229.63 379.22,227.15 380.86,226.32 382.49,224.67 384.12,227.98 385.76,234.59 387.07,242.86 388.21,251.13 389.52,257.74 391.48,261.05 394.75,261.87 398.02,262.7 402.92,262.7" fill="none" stroke="#000" stroke-width="2.6" stroke-linejoin="miter" stroke-miterlimit="3"/>
<path d="M437.1 194.7H515.9V263.4" fill="none" stroke="#000" stroke-width="1.3"/>
<path d="M437.1 194.1V264.4" fill="none" stroke="#000" stroke-width="1.5"/>
<path d="M436.1 263.4H516.5" fill="none" stroke="#000" stroke-width="2"/>
<path d="M431.6 194.7H437.1M434.1 196.99H437.1M434.1 199.28H437.1M434.1 201.57H437.1M434.1 203.86H437.1M434.1 206.15H437.1M431.6 208.44H437.1M434.1 210.73H437.1M434.1 213.02H437.1M434.1 215.31H437.1M434.1 217.6H437.1M434.1 219.89H437.1M431.6 222.18H437.1M434.1 224.47H437.1M434.1 226.76H437.1M434.1 229.05H437.1M434.1 231.34H437.1M434.1 233.63H437.1M431.6 235.92H437.1M434.1 238.21H437.1M434.1 240.5H437.1M434.1 242.79H437.1M434.1 245.08H437.1M434.1 247.37H437.1M431.6 249.66H437.1M434.1 251.95H437.1M434.1 254.24H437.1M434.1 256.53H437.1M434.1 258.82H437.1M434.1 261.11H437.1M431.6 263.4H437.1" stroke="#000" stroke-width="1.1"/>
<path d="M443.03 263.4V267.2M446.5 263.4V267.2M448.96 263.4V267.2M450.87 263.4V267.2M452.43 263.4V267.2M453.75 263.4V267.2M454.89 263.4V267.2M455.9 263.4V267.2M462.73 263.4V267.2M466.2 263.4V267.2M468.66 263.4V267.2M470.57 263.4V267.2M472.13 263.4V267.2M473.45 263.4V267.2M474.59 263.4V267.2M475.6 263.4V267.2M482.43 263.4V267.2M485.9 263.4V267.2M488.36 263.4V267.2M490.27 263.4V267.2M491.83 263.4V267.2M493.15 263.4V267.2M494.29 263.4V267.2M495.3 263.4V267.2M502.13 263.4V267.2M505.6 263.4V267.2M508.06 263.4V267.2M509.97 263.4V267.2M511.53 263.4V267.2M512.85 263.4V267.2M513.99 263.4V267.2M515 263.4V267.2" stroke="#000" stroke-width="1.05"/>
<path d="M437.1 263.4V270.4M456.8 263.4V270.4M476.5 263.4V270.4M496.2 263.4V270.4M515.9 263.4V270.4" stroke="#000" stroke-width="1.1"/>
<path d="M430.5 193.9v-1.6M430.5 207.64v-1.6M430.5 221.38v-1.6M430.5 235.12v-1.6M430.5 248.86v-1.6M430.5 262.6v-1.6M436.4 272h1.4M456.1 272h1.4M475.8 272h1.4M495.5 272h1.4M515.2 272h1.4M475 272h3M428.3 228.55v4.5" stroke="#aaa" stroke-width="0.9" fill="none"/>
<polyline points="443.81,262.9 447.08,259.58 449.53,254.61 451.98,246.32 453.62,239.68 455.25,231.39 456.88,221.44 458.52,213.15 459.34,210.66 460.64,214.81 462.12,221.44 463.75,228.07 465.38,234.71 467.02,243 468.65,251.29 470.78,257.92 473.23,260.41 476.5,262.07 483.04,262.9" fill="none" stroke="#000" stroke-width="1.35" stroke-linejoin="miter" stroke-miterlimit="3"/>
<polyline points="438.9,262.7 442.17,261.87 445.44,259.39 447.89,254.43 449.53,250.3 451.16,246.16 452.8,241.2 454.43,237.9 456.07,241.2 457.7,244.51 460.15,246.99 462.61,250.3 465.06,253.61 466.69,256.91 469.14,256.91 471.6,256.09 474.87,255.26 478.13,254.43 481.4,251.95 484.67,249.47 487.94,247.82 491.21,249.47 494.48,250.3 497.75,251.95 500.2,255.26 502.65,258.57 505.11,261.05 507.56,262.7 510.83,262.7" fill="none" stroke="#000" stroke-width="2.6" stroke-linejoin="miter" stroke-miterlimit="3"/>
<path d="M128.6 323.3H207.5V392.6" fill="none" stroke="#000" stroke-width="1.3"/>
<path d="M128.6 322.7V393.6" fill="none" stroke="#000" stroke-width="1.5"/>
<path d="M127.6 392.6H208.1" fill="none" stroke="#000" stroke-width="2"/>
<path d="M123.1 323.3H128.6M125.6 325.61H128.6M125.6 327.92H128.6M125.6 330.23H128.6M125.6 332.54H128.6M125.6 334.85H128.6M123.1 337.16H128.6M125.6 339.47H128.6M125.6 341.78H128.6M125.6 344.09H128.6M125.6 346.4H128.6M125.6 348.71H128.6M123.1 351.02H128.6M125.6 353.33H128.6M125.6 355.64H128.6M125.6 357.95H128.6M125.6 360.26H128.6M125.6 362.57H128.6M123.1 364.88H128.6M125.6 367.19H128.6M125.6 369.5H128.6M125.6 371.81H128.6M125.6 374.12H128.6M125.6 376.43H128.6M123.1 378.74H128.6M125.6 381.05H128.6M125.6 383.36H128.6M125.6 385.67H128.6M125.6 387.98H128.6M125.6 390.29H128.6M123.1 392.6H128.6" stroke="#000" stroke-width="1.1"/>
<path d="M134.54 392.6V396.4M138.01 392.6V396.4M140.48 392.6V396.4M142.39 392.6V396.4M143.95 392.6V396.4M145.27 392.6V396.4M146.41 392.6V396.4M147.42 392.6V396.4M154.26 392.6V396.4M157.74 392.6V396.4M160.2 392.6V396.4M162.11 392.6V396.4M163.67 392.6V396.4M164.99 392.6V396.4M166.14 392.6V396.4M167.15 392.6V396.4M173.99 392.6V396.4M177.46 392.6V396.4M179.93 392.6V396.4M181.84 392.6V396.4M183.4 392.6V396.4M184.72 392.6V396.4M185.86 392.6V396.4M186.87 392.6V396.4M193.71 392.6V396.4M197.19 392.6V396.4M199.65 392.6V396.4M201.56 392.6V396.4M203.12 392.6V396.4M204.44 392.6V396.4M205.59 392.6V396.4M206.6 392.6V396.4" stroke="#000" stroke-width="1.05"/>
<path d="M128.6 392.6V399.6M148.32 392.6V399.6M168.05 392.6V399.6M187.78 392.6V399.6M207.5 392.6V399.6" stroke="#000" stroke-width="1.1"/>
<path d="M122 322.5v-1.6M122 336.36v-1.6M122 350.22v-1.6M122 364.08v-1.6M122 377.94v-1.6M122 391.8v-1.6M127.9 401.2h1.4M147.62 401.2h1.4M167.35 401.2h1.4M187.08 401.2h1.4M206.8 401.2h1.4M166.55 401.2h3M119.8 357.45v4.5" stroke="#aaa" stroke-width="0.9" fill="none"/>
<polyline points="131.54,392.1 133.17,388.72 134.81,378.6 136.12,365.09 137.26,348.21 138.4,334.71 139.71,325.42 140.86,333.02 141.84,346.52 142.98,360.03 144.12,371.84 145.43,380.28 147.07,385.35 149.52,390.41 152.79,392.1" fill="none" stroke="#000" stroke-width="1.35" stroke-linejoin="miter" stroke-miterlimit="3"/>
<polyline points="151.15,391.9 157.69,391.9 162.6,391.06 165.87,386.85 168.32,380.12 170.77,371.7 173.22,365.81 175.67,362.45 177.31,364.13 178.94,368.34 181.39,375.07 183.85,380.12 186.3,384.33 188.75,386.85 192.02,387.69 195.29,389.38 198.56,390.22 201.83,391.9 205.1,391.9" fill="none" stroke="#000" stroke-width="2.6" stroke-linejoin="miter" stroke-miterlimit="3"/>
<path d="M231.8 323.3H310.3V392.6" fill="none" stroke="#000" stroke-width="1.3"/>
<path d="M231.8 322.7V393.6" fill="none" stroke="#000" stroke-width="1.5"/>
<path d="M230.8 392.6H310.9" fill="none" stroke="#000" stroke-width="2"/>
<path d="M226.3 323.3H231.8M228.8 325.61H231.8M228.8 327.92H231.8M228.8 330.23H231.8M228.8 332.54H231.8M228.8 334.85H231.8M226.3 337.16H231.8M228.8 339.47H231.8M228.8 341.78H231.8M228.8 344.09H231.8M228.8 346.4H231.8M228.8 348.71H231.8M226.3 351.02H231.8M228.8 353.33H231.8M228.8 355.64H231.8M228.8 357.95H231.8M228.8 360.26H231.8M228.8 362.57H231.8M226.3 364.88H231.8M228.8 367.19H231.8M228.8 369.5H231.8M228.8 371.81H231.8M228.8 374.12H231.8M228.8 376.43H231.8M226.3 378.74H231.8M228.8 381.05H231.8M228.8 383.36H231.8M228.8 385.67H231.8M228.8 387.98H231.8M228.8 390.29H231.8M226.3 392.6H231.8" stroke="#000" stroke-width="1.1"/>
<path d="M237.71 392.6V396.4M241.16 392.6V396.4M243.62 392.6V396.4M245.52 392.6V396.4M247.07 392.6V396.4M248.39 392.6V396.4M249.52 392.6V396.4M250.53 392.6V396.4M257.33 392.6V396.4M260.79 392.6V396.4M263.24 392.6V396.4M265.14 392.6V396.4M266.7 392.6V396.4M268.01 392.6V396.4M269.15 392.6V396.4M270.15 392.6V396.4M276.96 392.6V396.4M280.41 392.6V396.4M282.87 392.6V396.4M284.77 392.6V396.4M286.32 392.6V396.4M287.64 392.6V396.4M288.77 392.6V396.4M289.78 392.6V396.4M296.58 392.6V396.4M300.04 392.6V396.4M302.49 392.6V396.4M304.39 392.6V396.4M305.95 392.6V396.4M307.26 392.6V396.4M308.4 392.6V396.4M309.4 392.6V396.4" stroke="#000" stroke-width="1.05"/>
<path d="M231.8 392.6V399.6M251.43 392.6V399.6M271.05 392.6V399.6M290.68 392.6V399.6M310.3 392.6V399.6" stroke="#000" stroke-width="1.1"/>
<path d="M225.2 322.5v-1.6M225.2 336.36v-1.6M225.2 350.22v-1.6M225.2 364.08v-1.6M225.2 377.94v-1.6M225.2 391.8v-1.6M231.1 401.2h1.4M250.73 401.2h1.4M270.35 401.2h1.4M289.98 401.2h1.4M309.6 401.2h1.4M269.55 401.2h3M223 357.45v4.5" stroke="#aaa" stroke-width="0.9" fill="none"/>
<polyline points="235.54,392.1 238.81,390.41 241.26,383.66 242.89,371.84 244.04,360.03 245.02,346.52 246.16,336.4 247.31,333.86 248.29,332.18 249.43,334.71 250.58,341.46 251.56,351.59 252.38,361.72 253.19,368.47 253.85,375.22 254.83,381.97 255.97,387.04 257.61,389.57 260.06,390.41 263.33,391.26 268.23,392.1 274.77,392.1" fill="none" stroke="#000" stroke-width="1.35" stroke-linejoin="miter" stroke-miterlimit="3"/>
<polyline points="233.9,391.9 237.17,391.06 239.62,388.53 241.26,383.48 242.89,375.07 244.53,368.34 246.16,366.65 247.8,367.49 249.43,365.81 251.07,364.13 252.7,364.97 254.34,365.81 255.97,367.49 257.61,369.18 259.24,370.02 260.88,370.86 262.51,371.7 264.14,370.02 265.78,373.39 267.41,377.59 269.05,380.12 271.5,383.48 273.95,385.17 276.4,386.85 278.86,388.53 281.31,390.22 284.58,391.06 289.48,391.9 294.38,391.9" fill="none" stroke="#000" stroke-width="2.6" stroke-linejoin="miter" stroke-miterlimit="3"/>
<path d="M334.5 323.3H413.3V392.6" fill="none" stroke="#000" stroke-width="1.3"/>
<path d="M334.5 322.7V393.6" fill="none" stroke="#000" stroke-width="1.5"/>
<path d="M333.5 392.6H413.9" fill="none" stroke="#000" stroke-width="2"/>
<path d="M329 323.3H334.5M331.5 325.61H334.5M331.5 327.92H334.5M331.5 330.23H334.5M331.5 332.54H334.5M331.5 334.85H334.5M329 337.16H334.5M331.5 339.47H334.5M331.5 341.78H334.5M331.5 344.09H334.5M331.5 346.4H334.5M331.5 348.71H334.5M329 351.02H334.5M331.5 353.33H334.5M331.5 355.64H334.5M331.5 357.95H334.5M331.5 360.26H334.5M331.5 362.57H334.5M329 364.88H334.5M331.5 367.19H334.5M331.5 369.5H334.5M331.5 371.81H334.5M331.5 374.12H334.5M331.5 376.43H334.5M329 378.74H334.5M331.5 381.05H334.5M331.5 383.36H334.5M331.5 385.67H334.5M331.5 387.98H334.5M331.5 390.29H334.5M329 392.6H334.5" stroke="#000" stroke-width="1.1"/>
<path d="M340.43 392.6V396.4M343.9 392.6V396.4M346.36 392.6V396.4M348.27 392.6V396.4M349.83 392.6V396.4M351.15 392.6V396.4M352.29 392.6V396.4M353.3 392.6V396.4M360.13 392.6V396.4M363.6 392.6V396.4M366.06 392.6V396.4M367.97 392.6V396.4M369.53 392.6V396.4M370.85 392.6V396.4M371.99 392.6V396.4M373 392.6V396.4M379.83 392.6V396.4M383.3 392.6V396.4M385.76 392.6V396.4M387.67 392.6V396.4M389.23 392.6V396.4M390.55 392.6V396.4M391.69 392.6V396.4M392.7 392.6V396.4M399.53 392.6V396.4M403 392.6V396.4M405.46 392.6V396.4M407.37 392.6V396.4M408.93 392.6V396.4M410.25 392.6V396.4M411.39 392.6V396.4M412.4 392.6V396.4" stroke="#000" stroke-width="1.05"/>
<path d="M334.5 392.6V399.6M354.2 392.6V399.6M373.9 392.6V399.6M393.6 392.6V399.6M413.3 392.6V399.6" stroke="#000" stroke-width="1.1"/>
<path d="M327.9 322.5v-1.6M327.9 336.36v-1.6M327.9 350.22v-1.6M327.9 364.08v-1.6M327.9 377.94v-1.6M327.9 391.8v-1.6M333.8 401.2h1.4M353.5 401.2h1.4M373.2 401.2h1.4M392.9 401.2h1.4M412.6 401.2h1.4M372.4 401.2h3M325.7 357.45v4.5" stroke="#aaa" stroke-width="0.9" fill="none"/>
<polyline points="335.9,392.1 338.36,388.72 340.81,381.97 342.44,371.84 343.75,360.03 344.89,349.9 345.71,341.46 346.53,332.18 347.35,341.46 348.16,351.59 348.98,360.03 349.8,368.47 350.62,375.22 351.92,380.28 353.56,384.5 355.52,387.04 357.97,389.57 361.24,391.26 365.33,392.1 370.23,392.1" fill="none" stroke="#000" stroke-width="1.35" stroke-linejoin="miter" stroke-miterlimit="3"/>
<polyline points="337.54,391.9 340.81,391.06 343.26,387.69 345.71,381.8 347.35,375.07 348.98,368.34 350.29,363.29 351.43,361.94 353.07,362.45 354.7,364.13 355.85,367.49 357.15,371.7 358.79,376.75 360.42,380.12 362.38,384.33 364.51,386.85 366.96,387.69 370.23,388.53 372.68,390.22 375.13,391.06 380.04,391.9 388.21,391.9 399.65,391.9 409.46,391.9" fill="none" stroke="#000" stroke-width="2.6" stroke-linejoin="miter" stroke-miterlimit="3"/>
<path d="M437.8 323.3H516.3V392.6" fill="none" stroke="#000" stroke-width="1.3"/>
<path d="M437.8 322.7V393.6" fill="none" stroke="#000" stroke-width="1.5"/>
<path d="M436.8 392.6H516.9" fill="none" stroke="#000" stroke-width="2"/>
<path d="M432.3 323.3H437.8M434.8 325.61H437.8M434.8 327.92H437.8M434.8 330.23H437.8M434.8 332.54H437.8M434.8 334.85H437.8M432.3 337.16H437.8M434.8 339.47H437.8M434.8 341.78H437.8M434.8 344.09H437.8M434.8 346.4H437.8M434.8 348.71H437.8M432.3 351.02H437.8M434.8 353.33H437.8M434.8 355.64H437.8M434.8 357.95H437.8M434.8 360.26H437.8M434.8 362.57H437.8M432.3 364.88H437.8M434.8 367.19H437.8M434.8 369.5H437.8M434.8 371.81H437.8M434.8 374.12H437.8M434.8 376.43H437.8M432.3 378.74H437.8M434.8 381.05H437.8M434.8 383.36H437.8M434.8 385.67H437.8M434.8 387.98H437.8M434.8 390.29H437.8M432.3 392.6H437.8" stroke="#000" stroke-width="1.1"/>
<path d="M443.71 392.6V396.4M447.16 392.6V396.4M449.62 392.6V396.4M451.52 392.6V396.4M453.07 392.6V396.4M454.39 392.6V396.4M455.52 392.6V396.4M456.53 392.6V396.4M463.33 392.6V396.4M466.79 392.6V396.4M469.24 392.6V396.4M471.14 392.6V396.4M472.7 392.6V396.4M474.01 392.6V396.4M475.15 392.6V396.4M476.15 392.6V396.4M482.96 392.6V396.4M486.41 392.6V396.4M488.87 392.6V396.4M490.77 392.6V396.4M492.32 392.6V396.4M493.64 392.6V396.4M494.77 392.6V396.4M495.78 392.6V396.4M502.58 392.6V396.4M506.04 392.6V396.4M508.49 392.6V396.4M510.39 392.6V396.4M511.95 392.6V396.4M513.26 392.6V396.4M514.4 392.6V396.4M515.4 392.6V396.4" stroke="#000" stroke-width="1.05"/>
<path d="M437.8 392.6V399.6M457.43 392.6V399.6M477.05 392.6V399.6M496.67 392.6V399.6M516.3 392.6V399.6" stroke="#000" stroke-width="1.1"/>
<path d="M431.2 322.5v-1.6M431.2 336.36v-1.6M431.2 350.22v-1.6M431.2 364.08v-1.6M431.2 377.94v-1.6M431.2 391.8v-1.6M437.1 401.2h1.4M456.73 401.2h1.4M476.35 401.2h1.4M495.97 401.2h1.4M515.6 401.2h1.4M475.55 401.2h3M429 357.45v4.5" stroke="#aaa" stroke-width="0.9" fill="none"/>
<polyline points="443.81,392.1 447.08,390.41 449.53,387.04 451.65,380.28 453.29,370.16 454.43,360.03 455.58,349.9 456.88,343.15 458.03,339.77 459.01,343.15 460.15,353.28 461.13,363.4 462.12,373.53 463.1,381.97 464.24,387.88 465.88,391.26 468.33,392.1" fill="none" stroke="#000" stroke-width="1.35" stroke-linejoin="miter" stroke-miterlimit="3"/>
<polyline points="458.52,391.9 461.79,391.06 464.24,389.38 466.37,385.17 468,378.44 469.14,371.7 470.29,363.29 471.27,355.71 472.41,351.51 473.23,348.98 474.38,350.66 475.52,356.55 476.5,364.97 477.64,373.39 478.79,380.96 480.1,386.01 481.73,389.38 483.86,391.06 487.12,391.9 492.85,391.9" fill="none" stroke="#000" stroke-width="2.6" stroke-linejoin="miter" stroke-miterlimit="3"/>
<path d="M128.6 418.2H207.5V488" fill="none" stroke="#000" stroke-width="1.3"/>
<path d="M128.6 417.6V489" fill="none" stroke="#000" stroke-width="1.5"/>
<path d="M127.6 488H208.1" fill="none" stroke="#000" stroke-width="2"/>
<path d="M123.1 418.2H128.6M125.6 420.53H128.6M125.6 422.85H128.6M125.6 425.18H128.6M125.6 427.51H128.6M125.6 429.83H128.6M123.1 432.16H128.6M125.6 434.49H128.6M125.6 436.81H128.6M125.6 439.14H128.6M125.6 441.47H128.6M125.6 443.79H128.6M123.1 446.12H128.6M125.6 448.45H128.6M125.6 450.77H128.6M125.6 453.1H128.6M125.6 455.43H128.6M125.6 457.75H128.6M123.1 460.08H128.6M125.6 462.41H128.6M125.6 464.73H128.6M125.6 467.06H128.6M125.6 469.39H128.6M125.6 471.71H128.6M123.1 474.04H128.6M125.6 476.37H128.6M125.6 478.69H128.6M125.6 481.02H128.6M125.6 483.35H128.6M125.6 485.67H128.6M123.1 488H128.6" stroke="#000" stroke-width="1.1"/>
<path d="M134.54 488V491.8M138.01 488V491.8M140.48 488V491.8M142.39 488V491.8M143.95 488V491.8M145.27 488V491.8M146.41 488V491.8M147.42 488V491.8M154.26 488V491.8M157.74 488V491.8M160.2 488V491.8M162.11 488V491.8M163.67 488V491.8M164.99 488V491.8M166.14 488V491.8M167.15 488V491.8M173.99 488V491.8M177.46 488V491.8M179.93 488V491.8M181.84 488V491.8M183.4 488V491.8M184.72 488V491.8M185.86 488V491.8M186.87 488V491.8M193.71 488V491.8M197.19 488V491.8M199.65 488V491.8M201.56 488V491.8M203.12 488V491.8M204.44 488V491.8M205.59 488V491.8M206.6 488V491.8" stroke="#000" stroke-width="1.05"/>
<path d="M128.6 488V495M148.32 488V495M168.05 488V495M187.78 488V495M207.5 488V495" stroke="#000" stroke-width="1.1"/>
<path d="M122 417.4v-1.6M122 431.36v-1.6M122 445.32v-1.6M122 459.28v-1.6M122 473.24v-1.6M122 487.2v-1.6M127.9 496.6h1.4M147.62 496.6h1.4M167.35 496.6h1.4M187.08 496.6h1.4M206.8 496.6h1.4M166.55 496.6h3M119.8 452.6v4.5" stroke="#aaa" stroke-width="0.9" fill="none"/>
<polyline points="129.9,487.5 132.36,484.1 133.99,477.31 135.13,467.13 136.12,456.94 136.93,446.75 137.75,438.27 138.89,435.72 140.04,437.42 141.35,435.72 142.65,434.02 143.47,436.57 144.29,441.66 145.11,448.45 146.25,453.55 147.56,458.64 148.7,463.73 150.34,467.13 151.48,472.22 152.79,477.31 154.42,482.41 156.38,485.8 158.51,487.5 160.96,487.5" fill="none" stroke="#000" stroke-width="1.35" stroke-linejoin="miter" stroke-miterlimit="3"/>
<polyline points="144.62,487.3 162.6,487.3 167.5,487.3 169.95,487.3 171.59,485.61 173.22,483.07 174.86,483.91 176.49,482.22 178.12,478.84 179.76,476.3 181.39,474.6 183.03,473.76 184.66,472.91 186.3,470.37 187.44,468.34 188.75,470.37 190.38,471.22 192.02,472.91 193.33,471.22 194.96,469.53 196.11,472.06 197.74,476.3 199.38,480.53 201.01,484.76 202.64,487.3 205.1,487.3" fill="none" stroke="#000" stroke-width="2.6" stroke-linejoin="miter" stroke-miterlimit="3"/>
<path d="M231.8 418.2H310.3V488" fill="none" stroke="#000" stroke-width="1.3"/>
<path d="M231.8 417.6V489" fill="none" stroke="#000" stroke-width="1.5"/>
<path d="M230.8 488H310.9" fill="none" stroke="#000" stroke-width="2"/>
<path d="M226.3 418.2H231.8M228.8 420.53H231.8M228.8 422.85H231.8M228.8 425.18H231.8M228.8 427.51H231.8M228.8 429.83H231.8M226.3 432.16H231.8M228.8 434.49H231.8M228.8 436.81H231.8M228.8 439.14H231.8M228.8 441.47H231.8M228.8 443.79H231.8M226.3 446.12H231.8M228.8 448.45H231.8M228.8 450.77H231.8M228.8 453.1H231.8M228.8 455.43H231.8M228.8 457.75H231.8M226.3 460.08H231.8M228.8 462.41H231.8M228.8 464.73H231.8M228.8 467.06H231.8M228.8 469.39H231.8M228.8 471.71H231.8M226.3 474.04H231.8M228.8 476.37H231.8M228.8 478.69H231.8M228.8 481.02H231.8M228.8 483.35H231.8M228.8 485.67H231.8M226.3 488H231.8" stroke="#000" stroke-width="1.1"/>
<path d="M237.71 488V491.8M241.16 488V491.8M243.62 488V491.8M245.52 488V491.8M247.07 488V491.8M248.39 488V491.8M249.52 488V491.8M250.53 488V491.8M257.33 488V491.8M260.79 488V491.8M263.24 488V491.8M265.14 488V491.8M266.7 488V491.8M268.01 488V491.8M269.15 488V491.8M270.15 488V491.8M276.96 488V491.8M280.41 488V491.8M282.87 488V491.8M284.77 488V491.8M286.32 488V491.8M287.64 488V491.8M288.77 488V491.8M289.78 488V491.8M296.58 488V491.8M300.04 488V491.8M302.49 488V491.8M304.39 488V491.8M305.95 488V491.8M307.26 488V491.8M308.4 488V491.8M309.4 488V491.8" stroke="#000" stroke-width="1.05"/>
<path d="M231.8 488V495M251.43 488V495M271.05 488V495M290.68 488V495M310.3 488V495" stroke="#000" stroke-width="1.1"/>
<path d="M225.2 417.4v-1.6M225.2 431.36v-1.6M225.2 445.32v-1.6M225.2 459.28v-1.6M225.2 473.24v-1.6M225.2 487.2v-1.6M231.1 496.6h1.4M250.73 496.6h1.4M270.35 496.6h1.4M289.98 496.6h1.4M309.6 496.6h1.4M269.55 496.6h3M223 452.6v4.5" stroke="#aaa" stroke-width="0.9" fill="none"/>
<polyline points="233.9,487.5 236.36,482.41 238.48,475.62 240.12,467.13 241.75,458.64 243.38,451.85 244.69,445.91 245.67,442.51 246.98,446.75 248.29,449.3 249.43,453.55 251.07,458.64 252.7,463.73 254.34,468.82 255.48,473.92 256.79,479.01 258.42,484.1 260.88,486.65 263.33,487.5 266.6,487.5 271.5,487.5" fill="none" stroke="#000" stroke-width="1.35" stroke-linejoin="miter" stroke-miterlimit="3"/>
<polyline points="245.35,487.3 251.88,487.3 255.97,487.3 258.42,485.61 260.88,486.45 262.51,484.76 264.96,482.22 267.41,477.99 269.05,472.91 270.68,466.99 272.32,462.75 273.95,458.52 275.59,455.14 276.73,453.95 278.04,455.98 279.67,460.21 281.31,465.29 282.94,471.22 284.58,477.14 286.21,482.22 288.17,485.61 291.12,487.3 297.65,487.3" fill="none" stroke="#000" stroke-width="2.6" stroke-linejoin="miter" stroke-miterlimit="3"/>
<path d="M334.5 418.2H413.3V488" fill="none" stroke="#000" stroke-width="1.3"/>
<path d="M334.5 417.6V489" fill="none" stroke="#000" stroke-width="1.5"/>
<path d="M333.5 488H413.9" fill="none" stroke="#000" stroke-width="2"/>
<path d="M329 418.2H334.5M331.5 420.53H334.5M331.5 422.85H334.5M331.5 425.18H334.5M331.5 427.51H334.5M331.5 429.83H334.5M329 432.16H334.5M331.5 434.49H334.5M331.5 436.81H334.5M331.5 439.14H334.5M331.5 441.47H334.5M331.5 443.79H334.5M329 446.12H334.5M331.5 448.45H334.5M331.5 450.77H334.5M331.5 453.1H334.5M331.5 455.43H334.5M331.5 457.75H334.5M329 460.08H334.5M331.5 462.41H334.5M331.5 464.73H334.5M331.5 467.06H334.5M331.5 469.39H334.5M331.5 471.71H334.5M329 474.04H334.5M331.5 476.37H334.5M331.5 478.69H334.5M331.5 481.02H334.5M331.5 483.35H334.5M331.5 485.67H334.5M329 488H334.5" stroke="#000" stroke-width="1.1"/>
<path d="M340.43 488V491.8M343.9 488V491.8M346.36 488V491.8M348.27 488V491.8M349.83 488V491.8M351.15 488V491.8M352.29 488V491.8M353.3 488V491.8M360.13 488V491.8M363.6 488V491.8M366.06 488V491.8M367.97 488V491.8M369.53 488V491.8M370.85 488V491.8M371.99 488V491.8M373 488V491.8M379.83 488V491.8M383.3 488V491.8M385.76 488V491.8M387.67 488V491.8M389.23 488V491.8M390.55 488V491.8M391.69 488V491.8M392.7 488V491.8M399.53 488V491.8M403 488V491.8M405.46 488V491.8M407.37 488V491.8M408.93 488V491.8M410.25 488V491.8M411.39 488V491.8M412.4 488V491.8" stroke="#000" stroke-width="1.05"/>
<path d="M334.5 488V495M354.2 488V495M373.9 488V495M393.6 488V495M413.3 488V495" stroke="#000" stroke-width="1.1"/>
<path d="M327.9 417.4v-1.6M327.9 431.36v-1.6M327.9 445.32v-1.6M327.9 459.28v-1.6M327.9 473.24v-1.6M327.9 487.2v-1.6M333.8 496.6h1.4M353.5 496.6h1.4M373.2 496.6h1.4M392.9 496.6h1.4M412.6 496.6h1.4M372.4 496.6h3M325.7 452.6v4.5" stroke="#aaa" stroke-width="0.9" fill="none"/>
<polyline points="335.9,487.5 337.54,484.1 339.17,477.31 340.81,468.82 342.44,462.03 344.08,458.64 345.71,456.94 347.35,456.09 348.65,457.79 349.8,462.03 350.94,465.43 352.25,468.82 353.88,472.22 355.52,475.62 357.15,479.01 358.79,482.41 360.42,484.95 362.06,486.65 363.69,487.5 366.14,486.65 368.6,487.5 371.87,487.5" fill="none" stroke="#000" stroke-width="1.35" stroke-linejoin="miter" stroke-miterlimit="3"/>
<polyline points="340.81,487.3 344.08,487.3 347.35,487.3 350.62,486.45 353.88,485.61 356.34,483.91 358.79,481.38 361.24,478.84 363.69,475.45 365.33,472.06 366.96,469.53 368.92,466.99 371.05,464.45 372.68,466.14 374.32,468.68 375.95,470.37 378.4,471.22 380.86,472.06 383.31,472.91 385.76,472.91 388.21,473.76 390.66,476.3 393.12,477.99 395.57,478.84 398.02,477.14 399.65,477.99 401.29,479.68 402.92,481.38 404.56,483.91 406.19,485.61 408.64,487.3 411.1,487.3" fill="none" stroke="#000" stroke-width="2.6" stroke-linejoin="miter" stroke-miterlimit="3"/>
<path d="M437.8 418.2H516.3V488" fill="none" stroke="#000" stroke-width="1.3"/>
<path d="M437.8 417.6V489" fill="none" stroke="#000" stroke-width="1.5"/>
<path d="M436.8 488H516.9" fill="none" stroke="#000" stroke-width="2"/>
<path d="M432.3 418.2H437.8M434.8 420.53H437.8M434.8 422.85H437.8M434.8 425.18H437.8M434.8 427.51H437.8M434.8 429.83H437.8M432.3 432.16H437.8M434.8 434.49H437.8M434.8 436.81H437.8M434.8 439.14H437.8M434.8 441.47H437.8M434.8 443.79H437.8M432.3 446.12H437.8M434.8 448.45H437.8M434.8 450.77H437.8M434.8 453.1H437.8M434.8 455.43H437.8M434.8 457.75H437.8M432.3 460.08H437.8M434.8 462.41H437.8M434.8 464.73H437.8M434.8 467.06H437.8M434.8 469.39H437.8M434.8 471.71H437.8M432.3 474.04H437.8M434.8 476.37H437.8M434.8 478.69H437.8M434.8 481.02H437.8M434.8 483.35H437.8M434.8 485.67H437.8M432.3 488H437.8" stroke="#000" stroke-width="1.1"/>
<path d="M443.71 488V491.8M447.16 488V491.8M449.62 488V491.8M451.52 488V491.8M453.07 488V491.8M454.39 488V491.8M455.52 488V491.8M456.53 488V491.8M463.33 488V491.8M466.79 488V491.8M469.24 488V491.8M471.14 488V491.8M472.7 488V491.8M474.01 488V491.8M475.15 488V491.8M476.15 488V491.8M482.96 488V491.8M486.41 488V491.8M488.87 488V491.8M490.77 488V491.8M492.32 488V491.8M493.64 488V491.8M494.77 488V491.8M495.78 488V491.8M502.58 488V491.8M506.04 488V491.8M508.49 488V491.8M510.39 488V491.8M511.95 488V491.8M513.26 488V491.8M514.4 488V491.8M515.4 488V491.8" stroke="#000" stroke-width="1.05"/>
<path d="M437.8 488V495M457.43 488V495M477.05 488V495M496.67 488V495M516.3 488V495" stroke="#000" stroke-width="1.1"/>
<path d="M431.2 417.4v-1.6M431.2 431.36v-1.6M431.2 445.32v-1.6M431.2 459.28v-1.6M431.2 473.24v-1.6M431.2 487.2v-1.6M437.1 496.6h1.4M456.73 496.6h1.4M476.35 496.6h1.4M495.97 496.6h1.4M515.6 496.6h1.4M475.55 496.6h3M429 452.6v4.5" stroke="#aaa" stroke-width="0.9" fill="none"/>
<polyline points="438.9,487.5 440.54,484.1 442.99,479.01 445.44,472.22 447.4,465.43 449.04,460.34 450.02,457.79 451.16,461.18 452.31,463.73 453.62,462.03 454.76,463.73 456.07,467.13 457.7,472.22 459.34,477.31 460.97,482.41 462.61,485.8 464.24,487.5 466.69,486.65 469.14,487.5 473.23,487.5" fill="none" stroke="#000" stroke-width="1.35" stroke-linejoin="miter" stroke-miterlimit="3"/>
<polyline points="458.52,487.3 461.79,487.3 464.24,485.61 465.88,483.07 467.51,479.68 469.14,473.76 470.78,466.99 472.41,461.06 473.72,457.68 474.87,455.98 476.01,457.68 477.32,462.75 478.62,468.68 480.1,474.6 481.73,479.68 483.37,483.07 485.49,485.61 487.94,487.3 491.21,487.3" fill="none" stroke="#000" stroke-width="2.6" stroke-linejoin="miter" stroke-miterlimit="3"/>
<path d="M128.6 513.2H207.5V582.5" fill="none" stroke="#000" stroke-width="1.3"/>
<path d="M128.6 512.6V583.5" fill="none" stroke="#000" stroke-width="1.5"/>
<path d="M127.6 582.5H208.1" fill="none" stroke="#000" stroke-width="2"/>
<path d="M123.1 513.2H128.6M125.6 515.51H128.6M125.6 517.82H128.6M125.6 520.13H128.6M125.6 522.44H128.6M125.6 524.75H128.6M123.1 527.06H128.6M125.6 529.37H128.6M125.6 531.68H128.6M125.6 533.99H128.6M125.6 536.3H128.6M125.6 538.61H128.6M123.1 540.92H128.6M125.6 543.23H128.6M125.6 545.54H128.6M125.6 547.85H128.6M125.6 550.16H128.6M125.6 552.47H128.6M123.1 554.78H128.6M125.6 557.09H128.6M125.6 559.4H128.6M125.6 561.71H128.6M125.6 564.02H128.6M125.6 566.33H128.6M123.1 568.64H128.6M125.6 570.95H128.6M125.6 573.26H128.6M125.6 575.57H128.6M125.6 577.88H128.6M125.6 580.19H128.6M123.1 582.5H128.6" stroke="#000" stroke-width="1.1"/>
<path d="M134.54 582.5V586.3M138.01 582.5V586.3M140.48 582.5V586.3M142.39 582.5V586.3M143.95 582.5V586.3M145.27 582.5V586.3M146.41 582.5V586.3M147.42 582.5V586.3M154.26 582.5V586.3M157.74 582.5V586.3M160.2 582.5V586.3M162.11 582.5V586.3M163.67 582.5V586.3M164.99 582.5V586.3M166.14 582.5V586.3M167.15 582.5V586.3M173.99 582.5V586.3M177.46 582.5V586.3M179.93 582.5V586.3M181.84 582.5V586.3M183.4 582.5V586.3M184.72 582.5V586.3M185.86 582.5V586.3M186.87 582.5V586.3M193.71 582.5V586.3M197.19 582.5V586.3M199.65 582.5V586.3M201.56 582.5V586.3M203.12 582.5V586.3M204.44 582.5V586.3M205.59 582.5V586.3M206.6 582.5V586.3" stroke="#000" stroke-width="1.05"/>
<path d="M128.6 582.5V589.5M148.32 582.5V589.5M168.05 582.5V589.5M187.78 582.5V589.5M207.5 582.5V589.5" stroke="#000" stroke-width="1.1"/>
<path d="M122 512.4v-1.6M122 526.26v-1.6M122 540.12v-1.6M122 553.98v-1.6M122 567.84v-1.6M122 581.7v-1.6M127.9 591.1h1.4M147.62 591.1h1.4M167.35 591.1h1.4M187.08 591.1h1.4M206.8 591.1h1.4M166.55 591.1h3M119.8 547.35v4.5" stroke="#aaa" stroke-width="0.9" fill="none"/>
<polyline points="131.54,582 136.44,582 138.89,580.31 141.35,581.49 149.52,581.49 152.79,579.47 154.42,576.94 156.06,571.04 157.37,565.15 158.51,558.4 159.65,549.98 160.96,541.55 162.27,534.81 163.41,530.59 164.56,534.81 165.87,539.02 167.17,541.55 168.32,546.6 169.46,551.66 170.77,558.4 172.4,565.15 174.04,571.89 175.67,577.79 177.31,581.16 178.94,582" fill="none" stroke="#000" stroke-width="1.35" stroke-linejoin="miter" stroke-miterlimit="3"/>
<polyline points="162.6,581.8 170.77,581.8 174.04,581.8 177.31,580.12 179.76,577.6 182.21,575.92 184.66,574.24 186.3,571.72 187.93,569.2 189.57,566.67 191.2,564.15 192.84,561.63 194.47,559.95 195.62,561.63 196.92,566.67 198.23,571.72 199.54,576.76 201.01,580.12 202.64,581.8 205.1,581.8" fill="none" stroke="#000" stroke-width="2.6" stroke-linejoin="miter" stroke-miterlimit="3"/>
<path d="M231.8 513.2H310.3V582.5" fill="none" stroke="#000" stroke-width="1.3"/>
<path d="M231.8 512.6V583.5" fill="none" stroke="#000" stroke-width="1.5"/>
<path d="M230.8 582.5H310.9" fill="none" stroke="#000" stroke-width="2"/>
<path d="M226.3 513.2H231.8M228.8 515.51H231.8M228.8 517.82H231.8M228.8 520.13H231.8M228.8 522.44H231.8M228.8 524.75H231.8M226.3 527.06H231.8M228.8 529.37H231.8M228.8 531.68H231.8M228.8 533.99H231.8M228.8 536.3H231.8M228.8 538.61H231.8M226.3 540.92H231.8M228.8 543.23H231.8M228.8 545.54H231.8M228.8 547.85H231.8M228.8 550.16H231.8M228.8 552.47H231.8M226.3 554.78H231.8M228.8 557.09H231.8M228.8 559.4H231.8M228.8 561.71H231.8M228.8 564.02H231.8M228.8 566.33H231.8M226.3 568.64H231.8M228.8 570.95H231.8M228.8 573.26H231.8M228.8 575.57H231.8M228.8 577.88H231.8M228.8 580.19H231.8M226.3 582.5H231.8" stroke="#000" stroke-width="1.1"/>
<path d="M237.71 582.5V586.3M241.16 582.5V586.3M243.62 582.5V586.3M245.52 582.5V586.3M247.07 582.5V586.3M248.39 582.5V586.3M249.52 582.5V586.3M250.53 582.5V586.3M257.33 582.5V586.3M260.79 582.5V586.3M263.24 582.5V586.3M265.14 582.5V586.3M266.7 582.5V586.3M268.01 582.5V586.3M269.15 582.5V586.3M270.15 582.5V586.3M276.96 582.5V586.3M280.41 582.5V586.3M282.87 582.5V586.3M284.77 582.5V586.3M286.32 582.5V586.3M287.64 582.5V586.3M288.77 582.5V586.3M289.78 582.5V586.3M296.58 582.5V586.3M300.04 582.5V586.3M302.49 582.5V586.3M304.39 582.5V586.3M305.95 582.5V586.3M307.26 582.5V586.3M308.4 582.5V586.3M309.4 582.5V586.3" stroke="#000" stroke-width="1.05"/>
<path d="M231.8 582.5V589.5M251.43 582.5V589.5M271.05 582.5V589.5M290.68 582.5V589.5M310.3 582.5V589.5" stroke="#000" stroke-width="1.1"/>
<path d="M225.2 512.4v-1.6M225.2 526.26v-1.6M225.2 540.12v-1.6M225.2 553.98v-1.6M225.2 567.84v-1.6M225.2 581.7v-1.6M231.1 591.1h1.4M250.73 591.1h1.4M270.35 591.1h1.4M289.98 591.1h1.4M309.6 591.1h1.4M269.55 591.1h3M223 547.35v4.5" stroke="#aaa" stroke-width="0.9" fill="none"/>
<polyline points="235.54,582 238.81,579.47 242.08,576.94 245.35,574.42 247.31,570.2 248.62,561.77 249.92,551.66 251.07,543.23 252.21,536.49 253.52,530.59 254.66,533.12 255.97,539.86 257.12,546.6 258.42,551.66 259.57,556.72 260.88,561.77 262.02,566.83 263.33,571.89 264.96,576.94 266.92,580.31 269.87,582 273.13,582" fill="none" stroke="#000" stroke-width="1.35" stroke-linejoin="miter" stroke-miterlimit="3"/>
<polyline points="235.54,581.8 240.44,581.8 244.53,580.12 247.8,577.6 250.25,574.24 252.7,570.04 255.15,564.99 257.12,559.95 258.75,555.75 260.38,552.39 261.69,550.71 263.33,549.53 264.96,548.19 266.27,549.03 267.58,551.55 269.05,556.59 270.68,563.31 272.32,570.04 273.95,575.08 275.59,578.44 277.22,580.46 279.67,581.8 284.58,581.8 307.46,581.8" fill="none" stroke="#000" stroke-width="2.6" stroke-linejoin="miter" stroke-miterlimit="3"/>
<path d="M334.5 513.2H413.3V582.5" fill="none" stroke="#000" stroke-width="1.3"/>
<path d="M334.5 512.6V583.5" fill="none" stroke="#000" stroke-width="1.5"/>
<path d="M333.5 582.5H413.9" fill="none" stroke="#000" stroke-width="2"/>
<path d="M329 513.2H334.5M331.5 515.51H334.5M331.5 517.82H334.5M331.5 520.13H334.5M331.5 522.44H334.5M331.5 524.75H334.5M329 527.06H334.5M331.5 529.37H334.5M331.5 531.68H334.5M331.5 533.99H334.5M331.5 536.3H334.5M331.5 538.61H334.5M329 540.92H334.5M331.5 543.23H334.5M331.5 545.54H334.5M331.5 547.85H334.5M331.5 550.16H334.5M331.5 552.47H334.5M329 554.78H334.5M331.5 557.09H334.5M331.5 559.4H334.5M331.5 561.71H334.5M331.5 564.02H334.5M331.5 566.33H334.5M329 568.64H334.5M331.5 570.95H334.5M331.5 573.26H334.5M331.5 575.57H334.5M331.5 577.88H334.5M331.5 580.19H334.5M329 582.5H334.5" stroke="#000" stroke-width="1.1"/>
<path d="M340.43 582.5V586.3M343.9 582.5V586.3M346.36 582.5V586.3M348.27 582.5V586.3M349.83 582.5V586.3M351.15 582.5V586.3M352.29 582.5V586.3M353.3 582.5V586.3M360.13 582.5V586.3M363.6 582.5V586.3M366.06 582.5V586.3M367.97 582.5V586.3M369.53 582.5V586.3M370.85 582.5V586.3M371.99 582.5V586.3M373 582.5V586.3M379.83 582.5V586.3M383.3 582.5V586.3M385.76 582.5V586.3M387.67 582.5V586.3M389.23 582.5V586.3M390.55 582.5V586.3M391.69 582.5V586.3M392.7 582.5V586.3M399.53 582.5V586.3M403 582.5V586.3M405.46 582.5V586.3M407.37 582.5V586.3M408.93 582.5V586.3M410.25 582.5V586.3M411.39 582.5V586.3M412.4 582.5V586.3" stroke="#000" stroke-width="1.05"/>
<path d="M334.5 582.5V589.5M354.2 582.5V589.5M373.9 582.5V589.5M393.6 582.5V589.5M413.3 582.5V589.5" stroke="#000" stroke-width="1.1"/>
<path d="M327.9 512.4v-1.6M327.9 526.26v-1.6M327.9 540.12v-1.6M327.9 553.98v-1.6M327.9 567.84v-1.6M327.9 581.7v-1.6M333.8 591.1h1.4M353.5 591.1h1.4M373.2 591.1h1.4M392.9 591.1h1.4M412.6 591.1h1.4M372.4 591.1h3M325.7 547.35v4.5" stroke="#aaa" stroke-width="0.9" fill="none"/>
<polyline points="339.17,582 342.44,581.16 344.89,577.79 346.86,572.73 348.49,565.15 350.12,555.03 351.76,544.92 353.39,538.18 354.7,533.96 355.52,532.78 356.66,535.65 357.97,543.23 359.28,551.66 360.59,560.09 362.06,567.67 363.69,573.57 365.65,577.79 367.78,580.31 370.23,581.49 373.5,582" fill="none" stroke="#000" stroke-width="1.35" stroke-linejoin="miter" stroke-miterlimit="3"/>
<polyline points="345.71,581.8 353.88,581.8 357.97,580.96 361.24,579.28 363.69,576.76 365.65,573.4 367.29,568.36 368.92,561.63 370.56,555.75 372.19,550.71 373.83,548.19 375.46,546.84 376.77,546.51 378.08,548.19 379.55,550.71 381.18,554.07 382.49,558.27 383.63,563.31 384.94,568.36 386.58,573.4 388.54,578.44 390.66,580.96 393.93,581.8 399.65,581.8" fill="none" stroke="#000" stroke-width="2.6" stroke-linejoin="miter" stroke-miterlimit="3"/>
<path d="M437.8 513.2H516.3V582.5" fill="none" stroke="#000" stroke-width="1.3"/>
<path d="M437.8 512.6V583.5" fill="none" stroke="#000" stroke-width="1.5"/>
<path d="M436.8 582.5H516.9" fill="none" stroke="#000" stroke-width="2"/>
<path d="M432.3 513.2H437.8M434.8 515.51H437.8M434.8 517.82H437.8M434.8 520.13H437.8M434.8 522.44H437.8M434.8 524.75H437.8M432.3 527.06H437.8M434.8 529.37H437.8M434.8 531.68H437.8M434.8 533.99H437.8M434.8 536.3H437.8M434.8 538.61H437.8M432.3 540.92H437.8M434.8 543.23H437.8M434.8 545.54H437.8M434.8 547.85H437.8M434.8 550.16H437.8M434.8 552.47H437.8M432.3 554.78H437.8M434.8 557.09H437.8M434.8 559.4H437.8M434.8 561.71H437.8M434.8 564.02H437.8M434.8 566.33H437.8M432.3 568.64H437.8M434.8 570.95H437.8M434.8 573.26H437.8M434.8 575.57H437.8M434.8 577.88H437.8M434.8 580.19H437.8M432.3 582.5H437.8" stroke="#000" stroke-width="1.1"/>
<path d="M443.71 582.5V586.3M447.16 582.5V586.3M449.62 582.5V586.3M451.52 582.5V586.3M453.07 582.5V586.3M454.39 582.5V586.3M455.52 582.5V586.3M456.53 582.5V586.3M463.33 582.5V586.3M466.79 582.5V586.3M469.24 582.5V586.3M471.14 582.5V586.3M472.7 582.5V586.3M474.01 582.5V586.3M475.15 582.5V586.3M476.15 582.5V586.3M482.96 582.5V586.3M486.41 582.5V586.3M488.87 582.5V586.3M490.77 582.5V586.3M492.32 582.5V586.3M493.64 582.5V586.3M494.77 582.5V586.3M495.78 582.5V586.3M502.58 582.5V586.3M506.04 582.5V586.3M508.49 582.5V586.3M510.39 582.5V586.3M511.95 582.5V586.3M513.26 582.5V586.3M514.4 582.5V586.3M515.4 582.5V586.3" stroke="#000" stroke-width="1.05"/>
<path d="M437.8 582.5V589.5M457.43 582.5V589.5M477.05 582.5V589.5M496.67 582.5V589.5M516.3 582.5V589.5" stroke="#000" stroke-width="1.1"/>
<path d="M431.2 512.4v-1.6M431.2 526.26v-1.6M431.2 540.12v-1.6M431.2 553.98v-1.6M431.2 567.84v-1.6M431.2 581.7v-1.6M437.1 591.1h1.4M456.73 591.1h1.4M476.35 591.1h1.4M495.97 591.1h1.4M515.6 591.1h1.4M475.55 591.1h3M429 547.35v4.5" stroke="#aaa" stroke-width="0.9" fill="none"/>
<polyline points="440.54,582 443.81,582 446.26,578.63 448.38,572.73 450.02,565.15 451.65,556.72 453.12,549.13 454.43,544.92 455.25,543.57 456.39,545.76 457.7,550.82 459.01,556.72 460.48,563.46 462.12,569.36 463.75,573.57 465.88,576.94 468.33,579.47 470.78,581.16 474.05,582 478.13,582" fill="none" stroke="#000" stroke-width="1.35" stroke-linejoin="miter" stroke-miterlimit="3"/>
<polyline points="455.25,581.8 461.79,581.8 465.88,580.96 468.33,578.44 469.63,574.24 470.78,568.36 471.92,561.63 473.23,554.07 474.54,548.19 475.68,543.99 476.83,546.51 478.13,549.87 479.44,552.39 480.59,556.59 481.73,561.63 483.04,567.51 484.67,572.56 486.63,576.76 488.76,580.12 491.21,581.8 496.12,581.8 512.46,581.8" fill="none" stroke="#000" stroke-width="2.6" stroke-linejoin="miter" stroke-miterlimit="3"/>
</svg></body></html>
